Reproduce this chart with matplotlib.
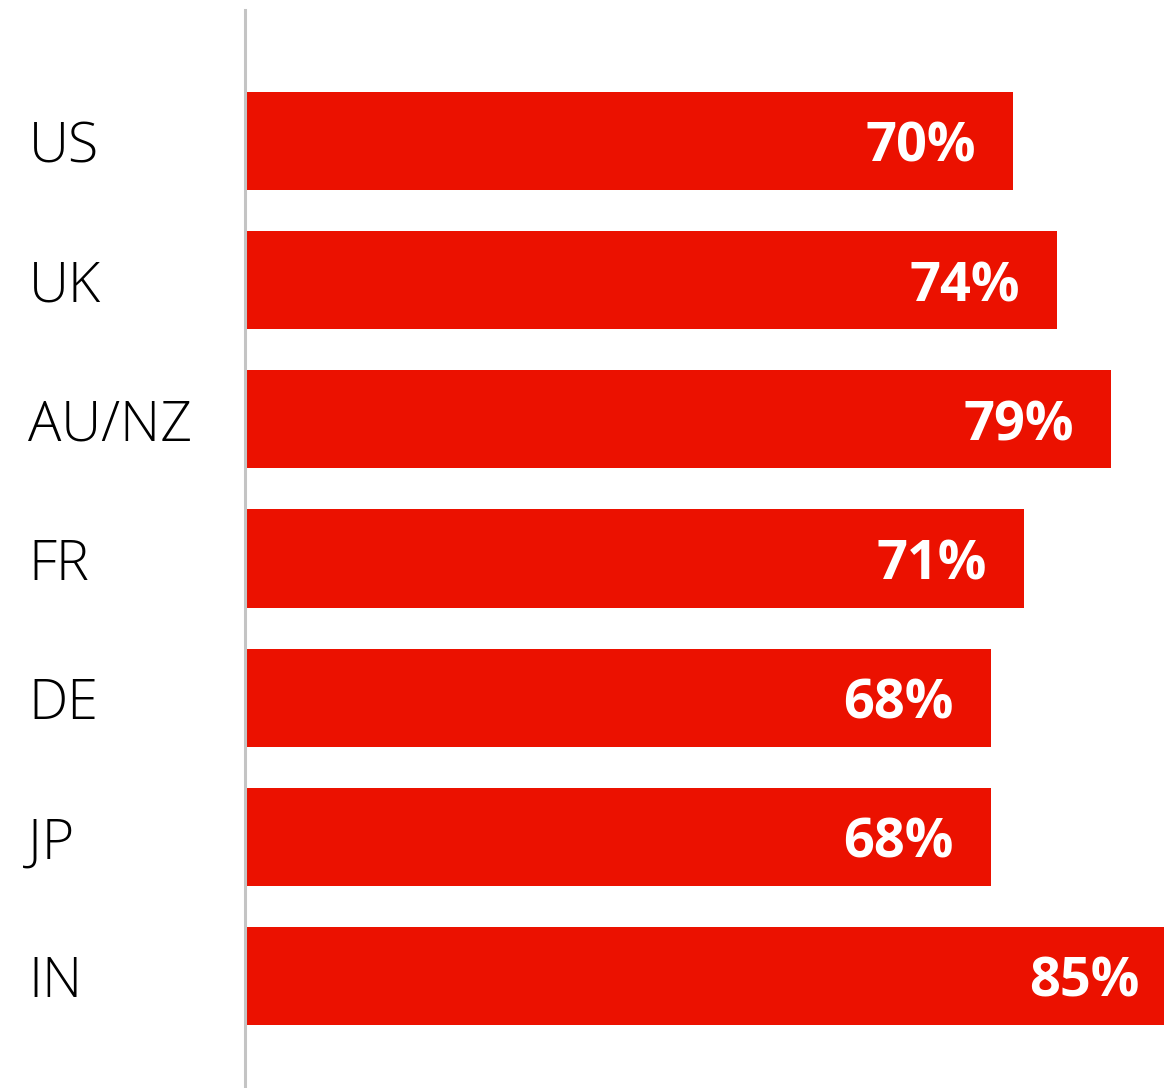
import matplotlib.pyplot as plt

# Share of respondents per market
countries = ["US", "UK", "AU/NZ", "FR", "DE", "JP", "IN"]
shares = [70, 74, 79, 71, 68, 68, 85]
labels = ["70%", "74%", "79%", "71%", "68%", "68%", "85%"]

bar_color = "#EB1100"
plt.rcParams["font.family"] = ["Open Sans", "DejaVu Sans"]

fig = plt.figure(figsize=(11.64, 10.88), dpi=100)
ax = fig.add_axes([245 / 1164, 0, 1 - 245 / 1164, 1078 / 1088])

pos = list(range(len(countries)))
ax.barh(pos, shares, height=0.705, color=bar_color, left=0.2)

for y, v, lab in zip(pos, shares, labels):
    ax.text(v - 3.2, y + 0.05, lab, ha="right", va="center",
            color="white", fontsize=39, fontweight="bold")

# country names sit in the left margin, outside the axes
for y, c in zip(pos, countries):
    ax.text(-19.8, y + 0.05, c, ha="left", va="center",
            color="black", fontsize=40, fontweight="light", clip_on=False)

ax.set_xlim(0, 84)
ax.set_ylim(6.805, -0.941)
ax.set_xticks([])
ax.set_yticks([])
for s in ["top", "right", "bottom"]:
    ax.spines[s].set_visible(False)
ax.spines["left"].set_color("#C4C4C4")
ax.spines["left"].set_linewidth(2.2)

fig.savefig("out.png", dpi=100, facecolor="white")
